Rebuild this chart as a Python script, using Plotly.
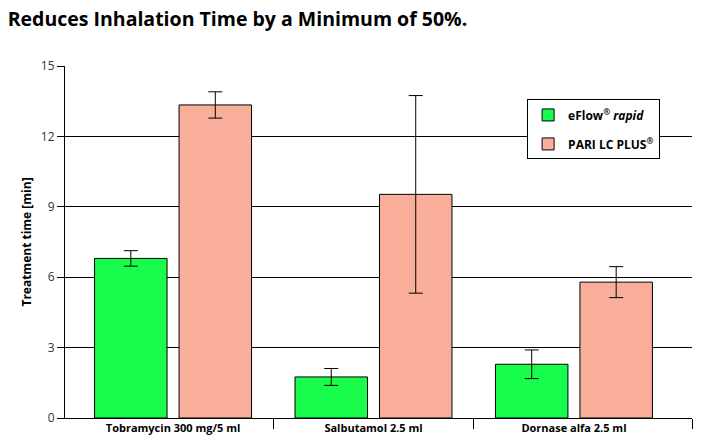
import plotly.graph_objects as go

categories = ["Tobramycin 300 mg/5 ml", "Salbutamol 2.5 ml", "Dornase alfa 2.5 ml"]
eflow_values = [6.80, 1.75, 2.29]
eflow_errors = [0.33, 0.36, 0.61]
pari_values = [13.34, 9.53, 5.79]
pari_errors = [0.56, 4.21, 0.66]
y_ticks = [0, 3, 6, 9, 12, 15]

GREEN = "rgb(24,252,76)"
PINK = "rgb(249,174,154)"
FONT = "Open Sans, DejaVu Sans, sans-serif"
X_RANGE = [-0.539, 2.589]

fig = go.Figure()
fig.add_trace(go.Bar(
    x=categories, y=eflow_values, name="eFlow<sup>®</sup> <i>rapid</i>", legendgroup="a",
    marker=dict(color=GREEN, line=dict(color="black", width=1)),
    error_y=dict(type="data", array=eflow_errors, color="black", thickness=1, width=7),
))
fig.add_trace(go.Bar(
    x=categories, y=pari_values, name="PARI LC PLUS<sup>®</sup>", legendgroup="b",
    marker=dict(color=PINK, line=dict(color="black", width=1)),
    error_y=dict(type="data", array=pari_errors, color="black", thickness=1, width=7),
))
# empty helper trace so the tick-only overlay axis is drawn
fig.add_trace(go.Scatter(x=[None], y=[None], xaxis="x2", yaxis="y", showlegend=False,
                         hoverinfo="skip", mode="markers"))

fig.update_layout(
    width=701, height=446,
    margin=dict(l=65, r=9, t=66, b=28),
    plot_bgcolor="white", paper_bgcolor="white",
    barmode="group", bargap=0.157, bargroupgap=0.142,
    font=dict(family=FONT, color="black", size=12),
    title=dict(text="<b>Reduces Inhalation Time by a Minimum of 50%.</b>",
               x=0.011, xanchor="left", y=0.957, yanchor="middle",
               font=dict(size=19.5, family=FONT, color="black")),
    showlegend=True,
    legend=dict(x=0.737, y=0.905, xanchor="left", yanchor="top",
                bgcolor="white", bordercolor="black", borderwidth=1,
                font=dict(size=12, family=FONT, color="black", weight="bold"),
                traceorder="grouped", tracegroupgap=10),
    xaxis=dict(range=X_RANGE, showline=True, linecolor="black", linewidth=1,
               ticks="", showgrid=False,
               tickfont=dict(size=11, family=FONT, color="black", weight="bold")),
    xaxis2=dict(overlaying="x", anchor="y", side="bottom", range=X_RANGE,
                tickvals=[0.5, 1.5, X_RANGE[1]], showticklabels=False,
                ticks="outside", ticklen=10, tickcolor="black", showgrid=False,
                showline=False, zeroline=False),
    yaxis=dict(range=[0, 15], tickvals=y_ticks, showline=True, linecolor="black", linewidth=1,
               ticks="outside", ticklen=7, tickcolor="black",
               showgrid=True, gridcolor="black", gridwidth=1,
               tickfont=dict(size=12, family=FONT, color="#333"),
               title=dict(text="<b>Treatment time [min]</b>", standoff=6,
                          font=dict(size=12, family=FONT, color="black")),
               zeroline=False),
)

fig.write_html("out.html", config={"displayModeBar": False},
               post_script="document.body.style.margin='0';")
